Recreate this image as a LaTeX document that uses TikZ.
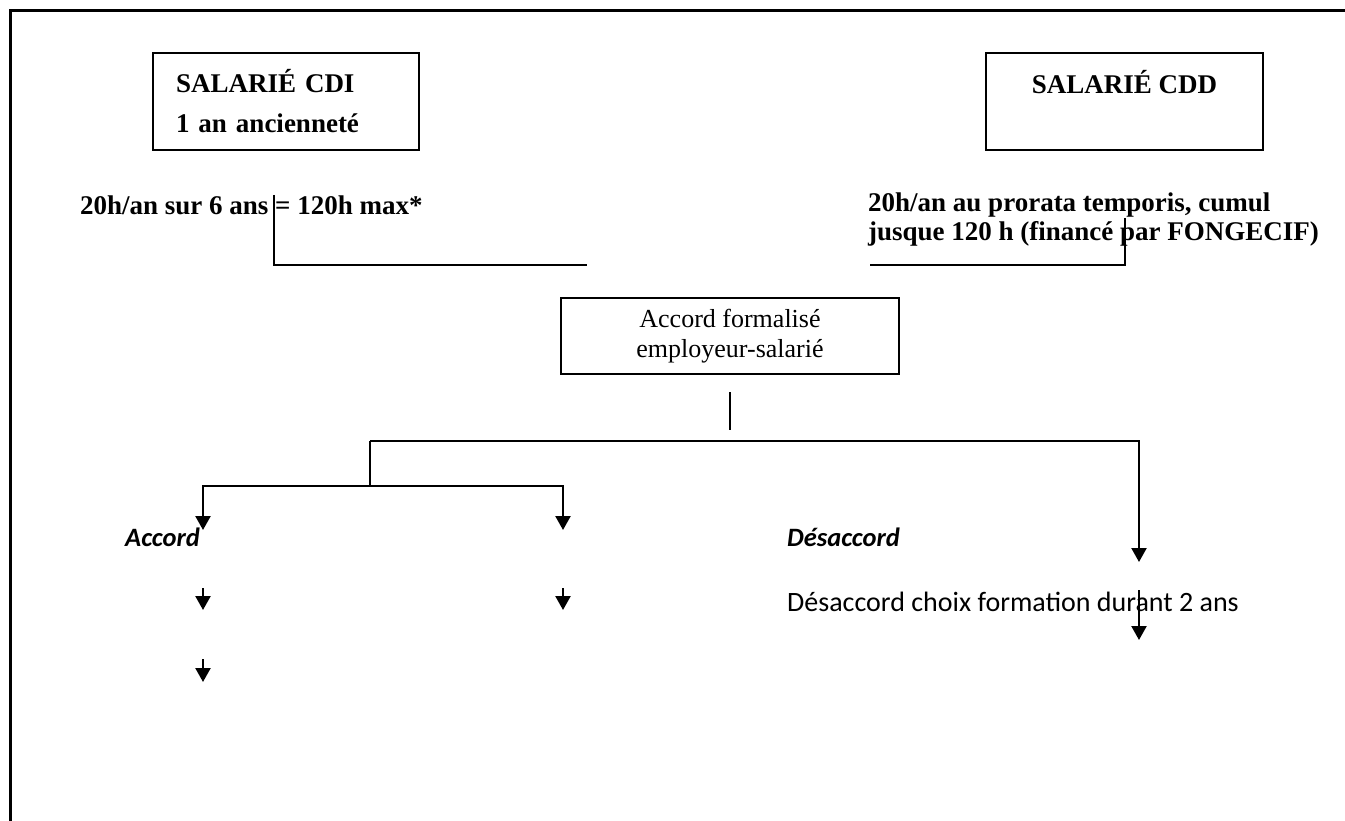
\documentclass[tikz,border=0pt]{standalone}
\usepackage{fontspec}
\setmainfont{Liberation Serif}
\newfontfamily\calib{Carlito}
\usepackage{tikz}
\usetikzlibrary{arrows.meta,positioning,calc}

\begin{document}
\begin{tikzpicture}[x=1pt,y=-1pt,
  frame/.style={line width=3pt,line cap=rect},
  box/.style={draw,line width=2.4pt,align=center,inner sep=0pt,font=\fontsize{26}{30}\selectfont},
  cdibox/.style={box,font=\fontsize{27}{40}\selectfont\bfseries,align=left,text width=220pt,inner xsep=23pt,minimum height=97pt},
  cddbox/.style={box,font=\fontsize{27}{40}\selectfont\bfseries,minimum width=277pt,minimum height=97pt},
  accbox/.style={box,minimum width=338pt,minimum height=76pt},
  hrs/.style={font=\fontsize{27}{29}\selectfont\bfseries,inner sep=0pt,anchor=west,align=left},
  choix/.style={font=\calib\fontsize{26.5}{30}\selectfont\bfseries\itshape,inner sep=0pt,anchor=west},
  motif/.style={font=\calib\fontsize{28}{30}\selectfont,inner sep=0pt,anchor=west},
  ln/.style={line width=2.3pt},
  arr/.style={ln,-{Triangle[length=14pt,width=15pt]}}]
\useasboundingbox (0,0) rectangle (1345,821);
\draw[frame] (1345,11) -- (10,11) -- (10,821);
\node[cdibox] (cdi) at (286,101.5) {SALARIÉ CDI\\1 an ancienneté};
\node[cddbox] (cdd) at (1124.5,101.5) {SALARIÉ CDD\\\mbox{}};
\node[hrs] (hcdi) at (80,205) {20h/an sur 6 ans = 120h max*};
\node[hrs] (hcdd) at (868,220) {20h/an au prorata temporis, cumul\\jusque 120 h (financé par FONGECIF)};
\node[accbox] (acc) at (730,336) {Accord formalisé\\employeur-salarié};
\node[choix] (oui) at (125,537) {Accord};
\node[choix] (non) at (787,537) {Désaccord};
\node[motif] (duree) at (787,602) {Désaccord choix formation durant 2 ans};
\coordinate (gh) at (274,195);
\coordinate (gb) at (587,265);
\coordinate (dh) at (1125,218);
\coordinate (db) at (870,265);
\coordinate (th) at (730,392);
\coordinate (tb) at (730,430);
\coordinate (split) at (370,441);
\coordinate (fork) at (370,486);
\coordinate (ouiend) at (203,530);
\coordinate (midend) at (563,530);
\coordinate (nonend) at (1139,562);
\draw[ln] (gh) |- (gb);
\draw[ln] (db) -| (dh);
\draw[ln] (th) -- (tb);
\draw[arr] (split) -| (nonend);
\draw[ln] (split) -- (fork);
\draw[arr] (fork) -| (ouiend);
\draw[arr] (fork) -| (midend);
\foreach \x/\y/\l in {203/588/22,563/588/22,203/659/23,1139/590/50}
  \draw[arr] (\x,\y) -- ++(0,\l);
\end{tikzpicture}
\end{document}
